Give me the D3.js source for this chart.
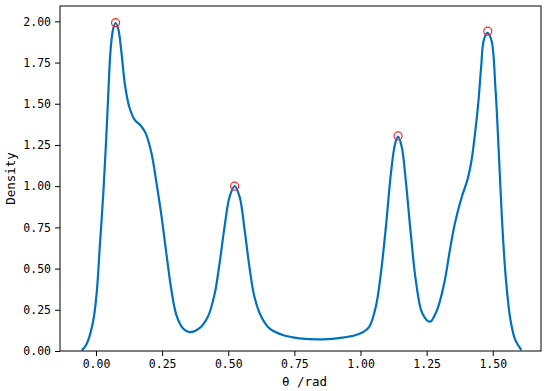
<!DOCTYPE html>
<html>
<head>
<meta charset="utf-8">
<script src="https://cdn.jsdelivr.net/npm/d3@7"></script>
<style>
  html, body { margin: 0; padding: 0; background: #fff; }
  svg { display: block; }
</style>
</head>
<body>
<svg id="chart" width="550" height="391"></svg>
<script>
const thetaValues = [-0.054, -0.040, -0.029, -0.010, 0.0025, 0.015, 0.0276, 0.0377, 0.0465, 0.055, 0.065, 0.074, 0.084, 0.097, 0.109, 0.126, 0.147, 0.168, 0.188, 0.21, 0.229, 0.248, 0.266, 0.285, 0.304, 0.329, 0.354, 0.390, 0.423, 0.449, 0.467, 0.486, 0.505, 0.524, 0.543, 0.562, 0.580, 0.599, 0.625, 0.656, 0.706, 0.769, 0.857, 0.932, 0.983, 1.010, 1.033, 1.058, 1.077, 1.096, 1.115, 1.131, 1.142, 1.156, 1.171, 1.19, 1.209, 1.234, 1.263, 1.280, 1.294, 1.319, 1.338, 1.357, 1.383, 1.404, 1.420, 1.433, 1.445, 1.456, 1.466, 1.480, 1.495, 1.51, 1.523, 1.535, 1.55, 1.567, 1.585, 1.608];
const densityValues = [0.005, 0.03, 0.067, 0.188, 0.35, 0.65, 0.956, 1.259, 1.56, 1.824, 1.955, 1.99, 1.955, 1.80, 1.62, 1.48, 1.40, 1.37, 1.32, 1.198, 1.016, 0.814, 0.592, 0.37, 0.218, 0.137, 0.115, 0.137, 0.208, 0.35, 0.53, 0.753, 0.935, 1.0, 0.935, 0.733, 0.511, 0.329, 0.208, 0.137, 0.097, 0.077, 0.071, 0.081, 0.097, 0.115, 0.147, 0.269, 0.471, 0.753, 1.077, 1.259, 1.30, 1.238, 1.036, 0.713, 0.43, 0.228, 0.178, 0.215, 0.269, 0.431, 0.613, 0.775, 0.936, 1.037, 1.159, 1.32, 1.50, 1.72, 1.885, 1.93, 1.885, 1.60, 1.198, 0.794, 0.43, 0.188, 0.067, 0.006];
const peakTheta = [0.074, 0.524, 1.142, 1.481];
const peakDensity = [1.992, 1.0, 1.305, 1.94];
const xTicks = [0.00, 0.25, 0.50, 0.75, 1.00, 1.25, 1.50];
const yTicks = [0.00, 0.25, 0.50, 0.75, 1.00, 1.25, 1.50, 1.75, 2.00];
const xLabel = "θ /rad";
const yLabel = "Density";

const svg = d3.select("#chart");
const plotLeft = 60, plotRight = 541, plotTop = 6, plotBottom = 351;
const font = "'DejaVu Sans Mono', monospace";

const x = d3.scaleLinear().domain([-0.1361, 1.6824]).range([plotLeft, plotRight]);
const y = d3.scaleLinear().domain([0, 2.093]).range([plotBottom, plotTop]);

const data = thetaValues.map((t, i) => ({t, d: densityValues[i]}));

const line = d3.line()
  .x(p => x(p.t))
  .y(p => y(p.d))
  .curve(d3.curveCatmullRom.alpha(0.5));

svg.append("path")
  .datum(data)
  .attr("d", line)
  .attr("fill", "none")
  .attr("stroke", "#0072bd")
  .attr("stroke-width", 2.2);

svg.selectAll("circle.peak")
  .data(peakTheta.map((t, i) => ({t, d: peakDensity[i]})))
  .enter().append("circle")
  .attr("class", "peak")
  .attr("cx", p => x(p.t))
  .attr("cy", p => y(p.d))
  .attr("r", 4)
  .attr("fill", "none")
  .attr("stroke", "#ff2020")
  .attr("stroke-width", 1.2);

svg.append("rect")
  .attr("x", plotLeft).attr("y", plotTop)
  .attr("width", plotRight - plotLeft).attr("height", plotBottom - plotTop)
  .attr("fill", "none").attr("stroke", "#000").attr("stroke-width", 1);

const xAxis = svg.append("g")
  .attr("transform", `translate(0,${plotBottom})`)
  .call(d3.axisBottom(x).tickValues(xTicks).tickFormat(d3.format(".2f")).tickSize(5).tickPadding(4));
const yAxis = svg.append("g")
  .attr("transform", `translate(${plotLeft},0)`)
  .call(d3.axisLeft(y).tickValues(yTicks).tickFormat(d3.format(".2f")).tickSize(5).tickPadding(4));

[xAxis, yAxis].forEach(g => {
  g.select(".domain").remove();
  g.selectAll("line").attr("stroke", "#000");
  g.selectAll("text").attr("font-family", font).attr("font-size", 11.5).attr("fill", "#000");
});

svg.append("text")
  .attr("x", (plotLeft + plotRight) / 2 + 4)
  .attr("y", 386)
  .attr("text-anchor", "middle")
  .attr("font-family", font)
  .attr("font-size", 12.5)
  .text(xLabel);

svg.append("text")
  .attr("transform", `translate(15,${(plotTop + plotBottom) / 2}) rotate(-90)`)
  .attr("text-anchor", "middle")
  .attr("font-family", font)
  .attr("font-size", 12.5)
  .text(yLabel);
</script>
</body>
</html>
